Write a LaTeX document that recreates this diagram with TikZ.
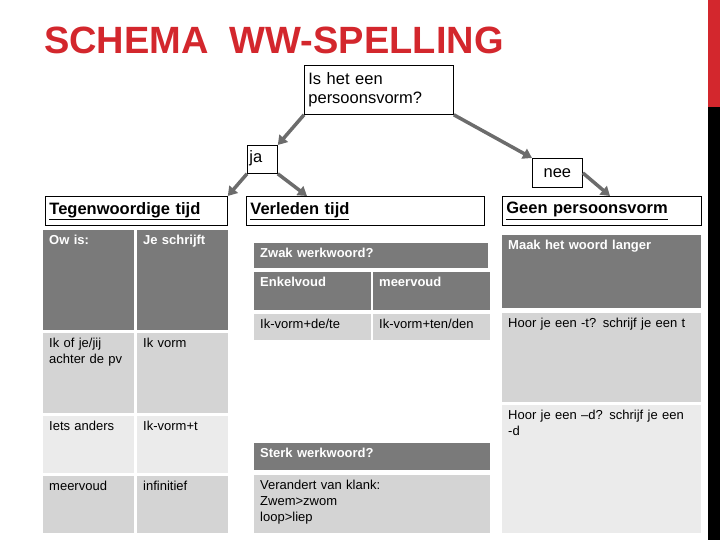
\documentclass[tikz,border=0pt]{standalone}
\usepackage{fontspec}
\setmainfont{Liberation Sans}
\usetikzlibrary{arrows.meta}
\definecolor{dk}{HTML}{7A7A7A}
\definecolor{lt}{HTML}{D4D4D4}
\definecolor{vl}{HTML}{EBEBEB}
\definecolor{ttl}{HTML}{D3272D}
% name x y w h fill textstyle text
\newcommand{\cel}[8]{%
  \node[fill=#6, minimum width=#4, minimum height=#5, anchor=north west, inner sep=0pt, outer sep=0pt] (#1) at (#2,#3) {};
  \node[#7, anchor=north west, text width=#4-14pt] (#1t) at (#1.north west) {#8};}
\tikzset{
 lt/.style={inner xsep=6pt, inner ysep=5pt, align=left, font=\fontsize{13}{16}\selectfont},
 wt/.style={lt, text=white, font=\fontsize{13}{16}\selectfont\bfseries},
 hbox/.style={draw=black, fill=white, line width=0.8pt, anchor=north west, inner sep=0pt, font=\fontsize{16.5}{19}\selectfont},
 arr/.style={draw=gray!85!black, line width=3.5pt, -{Triangle[length=9pt,width=11pt]}},
}
\begin{document}
\begin{tikzpicture}[x=1pt,y=-1pt]
\useasboundingbox (0,0) rectangle (720,540);
\fill[ttl] (708,0) rectangle (720,107);
\fill[black] (708,107) rectangle (720,540);
\node[anchor=west, text=ttl, font=\fontsize{38}{40}\selectfont\bfseries, inner sep=0pt] (title) at (44,40) {SCHEMA\ \ WW-SPELLING};
% top question
\node[hbox, minimum width=149pt, minimum height=49pt, align=left, text width=141pt, inner xsep=4pt] (q) at (304,65) {Is het een\\persoonsvorm?};
\node[hbox, minimum width=30pt, minimum height=28pt, text width=26pt, inner xsep=2pt, align=left] (ja) at (247,145) {\raisebox{5pt}{ja}};
\node[hbox, minimum width=50pt, minimum height=29pt, align=center] (nee) at (532,158) {nee};
% header boxes
\node[hbox, minimum width=182pt, minimum height=29pt, text width=174pt, inner xsep=4pt, align=left, font=\fontsize{16.5}{19}\selectfont\bfseries] (teg) at (45,196) {\underline{Tegenwoordige tijd}};
\node[hbox, minimum width=238pt, minimum height=29pt, text width=230pt, inner xsep=4pt, align=left, font=\fontsize{16.5}{19}\selectfont\bfseries] (ver) at (246,196) {\underline{Verleden tijd}};
\node[hbox, minimum width=199pt, minimum height=29pt, text width=191pt, inner xsep=4pt, align=left, font=\fontsize{16.5}{19}\selectfont\bfseries] (geen) at (502,196) {\underline{Geen persoonsvorm}};
% arrows
\draw[arr] (q.south west) -- (ja.north east);
\draw[arr] (ja.south west) -- (teg.north east);
\draw[arr] (ja.south east) -- (307,196);
\draw[arr] (q.south east) -- (nee.north west);
\draw[arr] (nee.east) -- (610,196);
% left table
\cel{a1}{43}{230}{91pt}{100pt}{dk}{wt}{Ow is:}
\cel{a2}{137}{230}{91pt}{100pt}{dk}{wt}{Je schrijft}
\cel{b1}{43}{333}{91pt}{80pt}{lt}{lt}{Ik of je/jij\\achter de pv}
\cel{b2}{137}{333}{91pt}{80pt}{lt}{lt}{Ik vorm}
\cel{c1}{43}{416}{91pt}{57pt}{vl}{lt}{Iets anders}
\cel{c2}{137}{416}{91pt}{57pt}{vl}{lt}{Ik-vorm+t}
\cel{d1}{43}{476}{91pt}{57pt}{lt}{lt}{meervoud}
\cel{d2}{137}{476}{91pt}{57pt}{lt}{lt}{infinitief}
% middle table
\cel{zw}{254}{243}{234pt}{25pt}{dk}{wt}{Zwak werkwoord?}
\cel{en}{254}{272}{117pt}{38pt}{dk}{wt}{Enkelvoud}
\cel{me}{373}{272}{117pt}{38pt}{dk}{wt}{meervoud}
\cel{ik1}{254}{314}{117pt}{26pt}{lt}{lt}{Ik-vorm+de/te}
\cel{ik2}{373}{314}{117pt}{26pt}{lt}{lt}{Ik-vorm+ten/den}
\cel{st}{254}{443}{236pt}{27pt}{dk}{wt}{Sterk werkwoord?}
\cel{vk}{254}{475}{236pt}{58pt}{lt}{lt}{Verandert van klank:\\Zwem>zwom\\loop>liep}
% right table
\cel{ml}{502}{235}{199pt}{73pt}{dk}{wt}{Maak het woord langer}
\cel{ht}{502}{313}{199pt}{89pt}{lt}{lt}{Hoor je een -t? schrijf je een t}
\cel{hd}{502}{405}{199pt}{128pt}{vl}{lt}{Hoor je een –d? schrijf je een\\-d}
\end{tikzpicture}
\end{document}
